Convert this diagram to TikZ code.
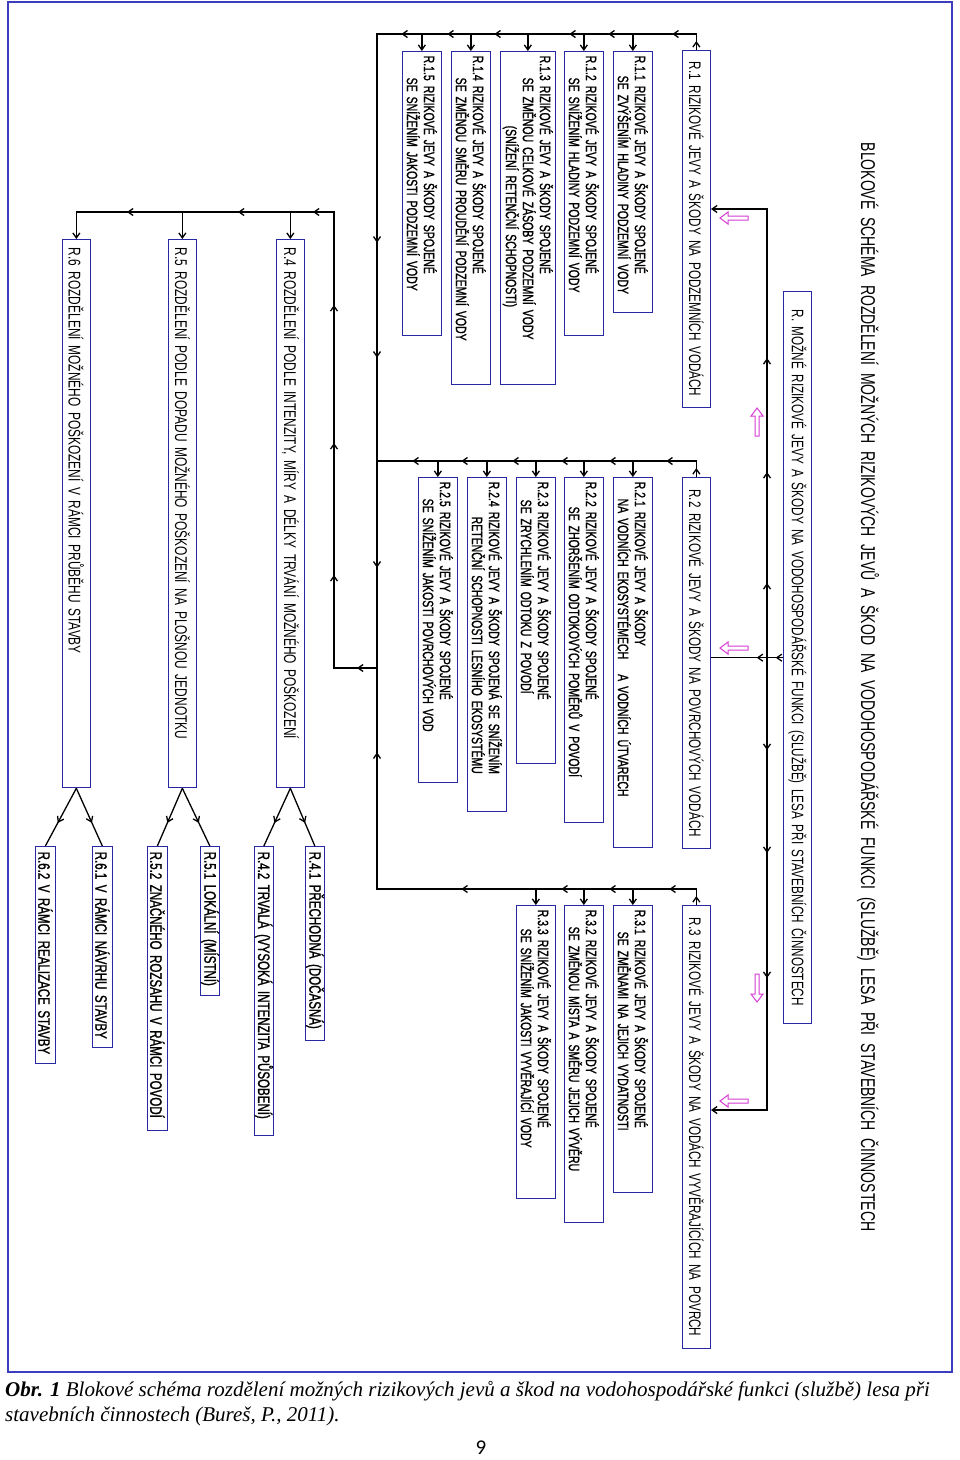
\documentclass[tikz,border=0pt]{standalone}
\usepackage{fontspec}
\setmainfont{Liberation Serif}
\newfontfamily\cadfont[FakeStretch=0.7,WordSpace=2]{Liberation Sans}
\newfontfamily\cadheavy[FakeStretch=0.7,WordSpace=2,FakeBold=1.2]{Liberation Sans}
\newfontfamily\pgfont{Carlito}
\usetikzlibrary{arrows.meta,decorations.markings}
\definecolor{boxblue}{RGB}{40,40,165}
\definecolor{framecol}{RGB}{60,60,190}
\definecolor{pinkc}{RGB}{215,60,215}
\begin{document}
\begin{tikzpicture}[x=1pt,y=-1pt,
  ln/.style={line width=1.3pt, black},
  ma/.style={postaction={decorate,decoration={markings,mark=at position #1 with {\arrow{Straight Barb[length=5pt,width=7pt]}}}}},
  endarr/.style={-{Straight Barb[length=5pt,width=7pt]}},
  bx/.style={draw=boxblue, line width=1.3pt, rotate=-90, anchor=north west, inner ysep=0pt, fill=white},
  bigc/.style={bx, inner xsep=5pt, align=center, minimum height=28pt, font=\cadfont\fontsize{16.7}{18}\selectfont},
  bigl/.style={bx, inner xsep=8pt, align=left, minimum height=28pt, font=\cadfont\fontsize{17}{18}\selectfont},
  small/.style={bx, inner xsep=4pt, align=left, font=\cadheavy\fontsize{15}{17}\selectfont},
  leaf/.style={bx, inner xsep=5pt, align=left, font=\cadheavy\fontsize{16.5}{17}\selectfont},
  pa/.style={draw=pinkc, line width=1pt, fill=white},
]
\useasboundingbox (0,0) rectangle (960,1460);
\fill[white] (0,0) rectangle (960,1460);
\draw[framecol, line width=1.5pt] (8,2) rectangle (952,1372);

% title
\node[rotate=-90, font=\cadfont\fontsize{20}{24}\selectfont] (title) at (868,687)
  {BLOKOVÉ SCHÉMA ROZDĚLENÍ MOŽNÝCH RIZIKOVÝCH JEVŮ A ŠKOD NA VODOHOSPODÁŘSKÉ FUNKCI (SLUŽBĚ) LESA PŘI STAVEBNÍCH ČINNOSTECH};

% main boxes
\node[bigc, text width=722pt] (R) at (812,291) {\mbox{R. MOŽNÉ RIZIKOVÉ JEVY A ŠKODY NA VODOHOSPODÁŘSKÉ FUNKCI (SLUŽBĚ) LESA PŘI STAVEBNÍCH ČINNOSTECH}};
\node[bigc, text width=347pt] (R1) at (711,50) {\mbox{R.1 RIZIKOVÉ JEVY A ŠKODY NA PODZEMNÍCH VODÁCH}};
\node[bigc, text width=361pt] (R2) at (711,477) {\mbox{R.2 RIZIKOVÉ JEVY A ŠKODY NA POVRCHOVÝCH VODÁCH}};
\node[bigc, text width=433pt] (R3) at (711,905) {\mbox{R.3 RIZIKOVÉ JEVY A ŠKODY NA VODÁCH VYVĚRAJÍCÍCH NA POVRCH}};

% R.1.x
\node[small, text width=253pt, minimum height=39pt] (R11) at (653,51) {\mbox{R.1.1 RIZIKOVÉ JEVY A ŠKODY SPOJENÉ}\\\hspace*{20pt}\mbox{SE ZVÝŠENÍM HLADINY PODZEMNÍ VODY}};
\node[small, text width=276pt, minimum height=39pt] (R12) at (604,51) {\mbox{R.1.2 RIZIKOVÉ JEVY A ŠKODY SPOJENÉ}\\\hspace*{22pt}\mbox{SE SNÍŽENÍM HLADINY PODZEMNÍ VODY}};
\node[small, text width=325pt, minimum height=55pt] (R13) at (556,51) {\mbox{R.1.3 RIZIKOVÉ JEVY A ŠKODY SPOJENÉ}\\\hspace*{22pt}\mbox{SE ZMĚNOU CELKOVÉ ZÁSOBY PODZEMNÍ VODY}\\\hspace*{70pt}\mbox{(SNÍŽENÍ RETENČNÍ SCHOPNOSTI)}};
\node[small, text width=325pt, minimum height=39pt] (R14) at (491,51) {\mbox{R.1.4 RIZIKOVÉ JEVY A ŠKODY SPOJENÉ}\\\hspace*{22pt}\mbox{SE ZMĚNOU SMĚRU PROUDĚNÍ PODZEMNÍ VODY}};
\node[small, text width=276pt, minimum height=39pt] (R15) at (442,51) {\mbox{R.1.5 RIZIKOVÉ JEVY A ŠKODY SPOJENÉ}\\\hspace*{22pt}\mbox{SE SNÍŽENÍM JAKOSTI PODZEMNÍ VODY}};

% R.2.x
\node[small, text width=362pt, minimum height=39pt] (R21) at (653,477) {\mbox{R.2.1 RIZIKOVÉ JEVY A ŠKODY}\\\hspace*{17pt}\mbox{NA VODNÍCH EKOSYSTÉMECH\hspace{10pt} A VODNÍCH ÚTVARECH}};
\node[small, text width=337pt, minimum height=39pt] (R22) at (604,477) {\mbox{R.2.2 RIZIKOVÉ JEVY A ŠKODY SPOJENÉ}\\\hspace*{25pt}\mbox{SE ZHORŠENÍM ODTOKOVÝCH POMĚRŮ V POVODÍ}};
\node[small, text width=278pt, minimum height=39pt] (R23) at (556,477) {\mbox{R.2.3 RIZIKOVÉ JEVY A ŠKODY SPOJENÉ}\\\hspace*{18pt}\mbox{SE ZRYCHLENÍM ODTOKU Z POVODÍ}};
\node[small, text width=326pt, minimum height=39pt] (R24) at (507,477) {\mbox{R.2.4 RIZIKOVÉ JEVY A ŠKODY SPOJENÁ SE SNÍŽENÍM}\\\hspace*{35pt}\mbox{RETENČNÍ SCHOPNOSTI LESNÍHO EKOSYSTÉMU}};
\node[small, text width=297pt, minimum height=39pt] (R25) at (458,477) {\mbox{R.2.5 RIZIKOVÉ JEVY A ŠKODY SPOJENÉ}\\\hspace*{17pt}\mbox{SE SNÍŽENÍM JAKOSTI POVRCHOVÝCH VOD}};

% R.3.x
\node[small, text width=279pt, minimum height=39pt] (R31) at (653,905) {\mbox{R.3.1 RIZIKOVÉ JEVY A ŠKODY SPOJENÉ}\\\hspace*{22pt}\mbox{SE ZMĚNAMI NA JEJICH VYDATNOSTI}};
\node[small, text width=309pt, minimum height=39pt] (R32) at (604,905) {\mbox{R.3.2 RIZIKOVÉ JEVY A ŠKODY SPOJENÉ}\\\hspace*{17pt}\mbox{SE ZMĚNOU MÍSTA A SMĚRU JEJICH VÝVĚRU}};
\node[small, text width=285pt, minimum height=39pt] (R33) at (556,905) {\mbox{R.3.3 RIZIKOVÉ JEVY A ŠKODY SPOJENÉ}\\\hspace*{19pt}\mbox{SE SNÍŽENÍM JAKOSTI VYVĚRAJÍCÍ VODY}};

% R.4 - R.6
\node[bigl, text width=532pt] (R4) at (305,239) {\mbox{R.4 ROZDĚLENÍ PODLE INTENZITY, MÍRY A DÉLKY TRVÁNÍ MOŽNÉHO POŠKOZENÍ}};
\node[bigl, text width=532pt] (R5) at (197,239) {\mbox{R.5 ROZDĚLENÍ PODLE DOPADU MOŽNÉHO POŠKOZENÍ NA PLOŠNOU JEDNOTKU}};
\node[bigl, text width=532pt] (R6) at (91,239) {\mbox{R.6 ROZDĚLENÍ MOŽNÉHO POŠKOZENÍ V RÁMCI PRŮBĚHU STAVBY}};

% leaves
\node[leaf, text width=184pt, minimum height=19pt] (R41) at (325,846) {\mbox{R.4.1 PŘECHODNÁ (DOČASNÁ)}};
\node[leaf, text width=279pt, minimum height=19pt] (R42) at (274,846) {\mbox{R.4.2 TRVALÁ (VYSOKÁ INTENZITA PŮSOBENÍ)}};
\node[leaf, text width=139pt, minimum height=19pt] (R51) at (220,846) {\mbox{R.5.1 LOKÁLNÍ (MÍSTNÍ)}};
\node[leaf, text width=274pt, minimum height=20pt] (R52) at (168,846) {\mbox{R.5.2 ZNAČNÉHO ROZSAHU V RÁMCI POVODÍ}};
\node[leaf, text width=191pt, minimum height=20pt] (R61) at (113,846) {\mbox{R.6.1 V RÁMCI NÁVRHU STAVBY}};
\node[leaf, text width=207pt, minimum height=20pt] (R62) at (56,846) {\mbox{R.6.2 V RÁMCI REALIZACE STAVBY}};

% junction coordinates
\coordinate (c1) at (377,34);
\coordinate (c2) at (377,461);
\coordinate (c3) at (377,889);
\coordinate (jn) at (377,668);
\coordinate (c4) at (334,668);
\coordinate (c5) at (334,212);
\coordinate (mj) at (767,657);
\coordinate (mt) at (767,209);
\coordinate (mb) at (767,1110);

% main distribution
\draw[ln, ma=7pt, ma=26pt] (R.south) -- (R.south -| R2.north);
\draw[ln, ma=74pt, ma=185pt, ma=299pt, endarr] (mj) -- (mt) -- (mt -| R1.north);
\draw[ln, ma=93pt, ma=196pt, ma=321pt, endarr] (mj) -- (mb) -- (mb -| R3.north);

% R.1 group
\draw[ln, ma=9pt, ma=40pt, ma=104pt, ma=143pt, ma=218pt, ma=265pt, ma=311pt, ma=544pt, ma=659pt, ma=869pt] (R1.west) |- (c1) -- (jn);
\foreach \n in {R11,R12,R13,R14,R15} \draw[ln, endarr] (\n.west |- c1) -- (\n.west);

% R.2 group
\draw[ln, ma=9pt, ma=46pt, ma=103pt, ma=151pt, ma=200pt, ma=251pt, ma=300pt] (R2.west) |- (c2);
\foreach \n in {R21,R22,R23,R24,R25} \draw[ln, endarr] (\n.west |- c2) -- (\n.west);

% R.3 group
\draw[ln, ma=9pt, ma=43pt, ma=103pt, ma=151pt, ma=251pt, ma=472pt] (R3.west) |- (c3) -- (jn);
\foreach \n in {R31,R32,R33} \draw[ln, endarr] (\n.west |- c3) -- (\n.west);

% to R.4 - R.6
\draw[ln, ma=20pt, ma=136pt, ma=268pt, ma=406pt, ma=520pt, ma=595pt, ma=706pt, endarr] (jn) -- (c4) -- (c5) -| (R6.west);
\foreach \n in {R4,R5} \draw[ln, endarr] (\n.west |- c5) -- (\n.west);

% branches
\draw[ln, ma=0.6] (R4.east) -- (R41.west);
\draw[ln, ma=0.6] (R4.east) -- (R42.west);
\draw[ln, ma=0.6] (R5.east) -- (R51.west);
\draw[ln, ma=0.6] (R5.east) -- (R52.west);
\draw[ln, ma=0.6] (R6.east) -- (R61.west);
\draw[ln, ma=0.6] (R6.east) -- (R62.west);

% pink hollow arrows
\draw[pa] (720,218) -- ++(8,-6) -- ++(0,4) -- ++(20,0) -- ++(0,4) -- ++(-20,0) -- ++(0,4) -- cycle;
\draw[pa] (720,648) -- ++(8,-6) -- ++(0,4) -- ++(20,0) -- ++(0,4) -- ++(-20,0) -- ++(0,4) -- cycle;
\draw[pa] (720,1101) -- ++(8,-6) -- ++(0,4) -- ++(20,0) -- ++(0,4) -- ++(-20,0) -- ++(0,4) -- cycle;
\draw[pa] (757,408) -- ++(6,8) -- ++(-4,0) -- ++(0,20) -- ++(-4,0) -- ++(0,-20) -- ++(-4,0) -- cycle;
\draw[pa] (757,1002) -- ++(6,-8) -- ++(-4,0) -- ++(0,-20) -- ++(-4,0) -- ++(0,20) -- ++(-4,0) -- cycle;

% caption
\node[anchor=base west, inner sep=0, font=\fontsize{21}{24}\selectfont\itshape] (cap1) at (5,1396)
  {\textbf{Obr. 1} Blokové schéma rozdělení možných rizikových jevů a škod na vodohospodářské funkci (službě) lesa při};
\node[anchor=base west, inner sep=0, font=\fontsize{21}{24}\selectfont\itshape] (cap2) at (5,1421)
  {stavebních činnostech (Bureš, P., 2011).};
\node[font=\pgfont\fontsize{21}{21}\selectfont] (pg) at (481,1448) {9};
\end{tikzpicture}
\end{document}
